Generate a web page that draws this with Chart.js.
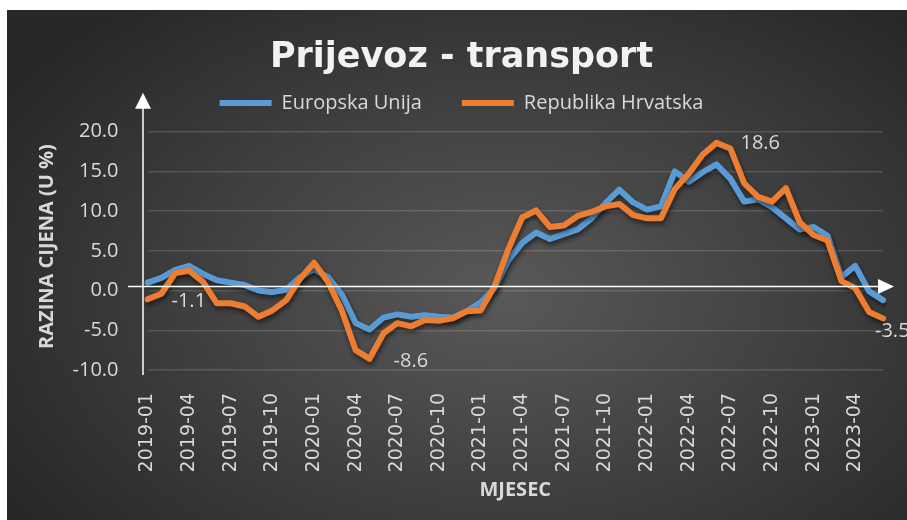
<!DOCTYPE html>
<html>
<head>
<meta charset="utf-8">
<title>Prijevoz - transport</title>
<script src="https://cdn.jsdelivr.net/npm/chart.js@4.4.1/dist/chart.umd.min.js"></script>
<style>
  html, body { margin: 0; padding: 0; background: #fff; }
  #wrap { position: relative; width: 907px; height: 520px; }
  #bg {
    position: absolute; left: 7px; top: 10px; width: 900px; height: 510px;
    background: radial-gradient(ellipse 65% 75% at 55% 56%, #595959 0%, #434343 45%, #272727 100%);
  }
  #chart { position: absolute; left: 0; top: 0; }
</style>
</head>
<body>
<div id="wrap">
  <div id="bg"></div>
  <canvas id="chart" width="907" height="520"></canvas>
</div>
<script>
// ----------------------------------------------------
// DATA
// ----------------------------------------------------
const months = [
  "2019-01", "2019-02", "2019-03", "2019-04", "2019-05", "2019-06",
  "2019-07", "2019-08", "2019-09", "2019-10", "2019-11", "2019-12",
  "2020-01", "2020-02", "2020-03", "2020-04", "2020-05", "2020-06",
  "2020-07", "2020-08", "2020-09", "2020-10", "2020-11", "2020-12",
  "2021-01", "2021-02", "2021-03", "2021-04", "2021-05", "2021-06",
  "2021-07", "2021-08", "2021-09", "2021-10", "2021-11", "2021-12",
  "2022-01", "2022-02", "2022-03", "2022-04", "2022-05", "2022-06",
  "2022-07", "2022-08", "2022-09", "2022-10", "2022-11", "2022-12",
  "2023-01", "2023-02", "2023-03", "2023-04", "2023-05", "2023-06"
];

// Europska Unija
const euValues = [
  1.0, 1.6, 2.6, 3.1, 2.1, 1.3, 1.0, 0.7, 0.0, -0.2, 0.1, 1.7,
  2.7, 1.7, -0.5, -4.1, -4.9, -3.4, -3.0, -3.3, -3.1, -3.3, -3.4, -2.6,
  -1.5, 0.3, 3.8, 6.0, 7.3, 6.5, 7.1, 7.7, 9.1, 11.0, 12.7, 11.1,
  10.2, 10.6, 15.0, 13.7, 14.9, 15.9, 14.1, 11.2, 11.5, 10.5, 9.1, 7.7,
  8.0, 6.9, 1.7, 3.1, -0.1, -1.2
];

// Republika Hrvatska
const hrValues = [
  -1.1, -0.4, 2.2, 2.5, 1.1, -1.6, -1.6, -2.0, -3.3, -2.5, -1.2, 1.5,
  3.5, 1.1, -2.5, -7.5, -8.6, -5.4, -4.1, -4.5, -3.7, -3.8, -3.5, -2.6,
  -2.5, 0.5, 5.2, 9.2, 10.1, 8.0, 8.2, 9.4, 9.9, 10.6, 10.9, 9.5,
  9.1, 9.1, 12.8, 14.7, 17.1, 18.6, 17.9, 13.5, 11.8, 11.2, 12.9, 8.6,
  7.0, 6.3, 1.2, 0.3, -2.7, -3.5
];

// points of the HR series that carry a value label
const labelledPoints = [0, 16, 41, 53];

const Y_MIN = -10;
const Y_MAX = 20;
const Y_STEP = 5;

const TEXT = "#d9d9d9";

// ----------------------------------------------------
// PLUGINS
// ----------------------------------------------------
// soft drop shadow under the series lines
const lineShadow = {
  id: "lineShadow",
  beforeDatasetDraw(chart) {
    const ctx = chart.ctx;
    ctx.save();
    ctx.shadowColor = "rgba(0,0,0,0.55)";
    ctx.shadowBlur = 5;
    ctx.shadowOffsetX = 1;
    ctx.shadowOffsetY = 3;
  },
  afterDatasetDraw(chart) {
    chart.ctx.restore();
  }
};

// white arrow axes
const axisArrows = {
  id: "axisArrows",
  afterDatasetsDraw(chart) {
    const ctx = chart.ctx;
    const a = chart.chartArea;
    const ys = chart.scales.y;
    const y20 = ys.getPixelForValue(Y_MAX);
    const y0 = ys.getPixelForValue(0) - 4;
    const ax = a.left - 4.5;

    ctx.save();
    ctx.strokeStyle = "#ffffff";
    ctx.fillStyle = "#ffffff";
    ctx.lineWidth = 1.5;

    // vertical axis
    ctx.beginPath();
    ctx.moveTo(ax, a.bottom + 5);
    ctx.lineTo(ax, y20 - 25);
    ctx.stroke();
    ctx.beginPath();
    ctx.moveTo(ax, y20 - 39);
    ctx.lineTo(ax - 8, y20 - 23);
    ctx.lineTo(ax + 8, y20 - 23);
    ctx.closePath();
    ctx.fill();

    // horizontal axis
    ctx.beginPath();
    ctx.moveTo(a.left - 19.5, y0);
    ctx.lineTo(a.right - 4, y0);
    ctx.stroke();
    ctx.beginPath();
    ctx.moveTo(a.right + 11, y0);
    ctx.lineTo(a.right - 5, y0 - 7.5);
    ctx.lineTo(a.right - 5, y0 + 7.5);
    ctx.closePath();
    ctx.fill();
    ctx.restore();
  }
};

// value labels on selected HR points
const labelOffsets = [
  { dx: 24, dy: 2 },
  { dx: 24, dy: 2 },
  { dx: 24, dy: 0 },
  { dx: -8, dy: 13 }
];
const valueLabels = {
  id: "valueLabels",
  afterDatasetsDraw(chart) {
    const ctx = chart.ctx;
    const meta = chart.getDatasetMeta(1);
    ctx.save();
    ctx.font = "20px 'Open Sans'";
    ctx.fillStyle = TEXT;
    ctx.textAlign = "left";
    ctx.textBaseline = "middle";
    labelledPoints.forEach((idx, k) => {
      const pt = meta.data[idx];
      const off = labelOffsets[k];
      ctx.fillText(hrValues[idx].toFixed(1), pt.x + off.dx, pt.y + off.dy);
    });
    ctx.restore();
  }
};

// ----------------------------------------------------
// CHART
// ----------------------------------------------------
const ctx = document.getElementById("chart").getContext("2d");

new Chart(ctx, {
  type: "line",
  data: {
    labels: months,
    datasets: [
      {
        label: "Europska Unija",
        data: euValues,
        borderColor: "#5b9bd5",
        backgroundColor: "#5b9bd5",
        borderWidth: 6,
        borderCapStyle: "round",
        borderJoinStyle: "round",
        pointRadius: 0,
        tension: 0,
        order: 2
      },
      {
        label: "Republika Hrvatska",
        data: hrValues,
        borderColor: "#ed7d31",
        backgroundColor: "#ed7d31",
        borderWidth: 6,
        borderCapStyle: "round",
        borderJoinStyle: "round",
        pointRadius: 0,
        tension: 0,
        order: 1
      }
    ]
  },
  options: {
    responsive: false,
    animation: false,
    layout: {
      padding: { top: 0, right: 24, bottom: 0, left: 40 }
    },
    plugins: {
      tooltip: { enabled: false },
      title: {
        display: true,
        text: "Prijevoz - transport",
        color: "#f2f2f2",
        font: { family: "'DejaVu Sans'", size: 35, weight: "bold", lineHeight: 1.2 },
        padding: { top: 37, bottom: -26 }
      },
      legend: {
        display: true,
        position: "top",
        labels: {
          color: TEXT,
          font: { family: "'Open Sans'", size: 20 },
          usePointStyle: true,
          pointStyle: "line",
          pointStyleWidth: 52,
          padding: 40,
          sort: (a, b) => a.datasetIndex - b.datasetIndex
        }
      }
    },
    scales: {
      x: {
        grid: { display: false },
        border: { display: false },
        ticks: {
          color: TEXT,
          font: { family: "'DejaVu Sans'", size: 19 },
          autoSkip: false,
          minRotation: 90,
          maxRotation: 90,
          padding: 15,
          callback: function (value, index) {
            return index % 3 === 0 ? this.getLabelForValue(value) : null;
          }
        },
        title: {
          display: true,
          text: "MJESEC",
          color: TEXT,
          font: { family: "'Open Sans'", size: 20, weight: "bold" },
          padding: { top: 0, bottom: 18 }
        },
        afterFit(scale) {
          scale.height = 150;
        }
      },
      y: {
        min: Y_MIN,
        max: 21.1,
        grid: {
          color: "rgba(255,255,255,0.14)",
          lineWidth: 1.5,
          drawTicks: false
        },
        border: { display: false },
        ticks: {
          stepSize: Y_STEP,
          includeBounds: false,
          color: TEXT,
          font: { family: "'Open Sans'", size: 20 },
          padding: 29,
          callback: (v) => v.toFixed(1)
        },
        title: {
          display: true,
          text: "RAZINA CIJENA (U %)",
          color: TEXT,
          font: { family: "'Open Sans'", size: 20, weight: "bold" },
          padding: { top: -5, bottom: 0 }
        },
        afterFit(scale) {
          scale.width = 107.5;
        }
      }
    }
  },
  plugins: [lineShadow, axisArrows, valueLabels]
});
</script>
</body>
</html>
